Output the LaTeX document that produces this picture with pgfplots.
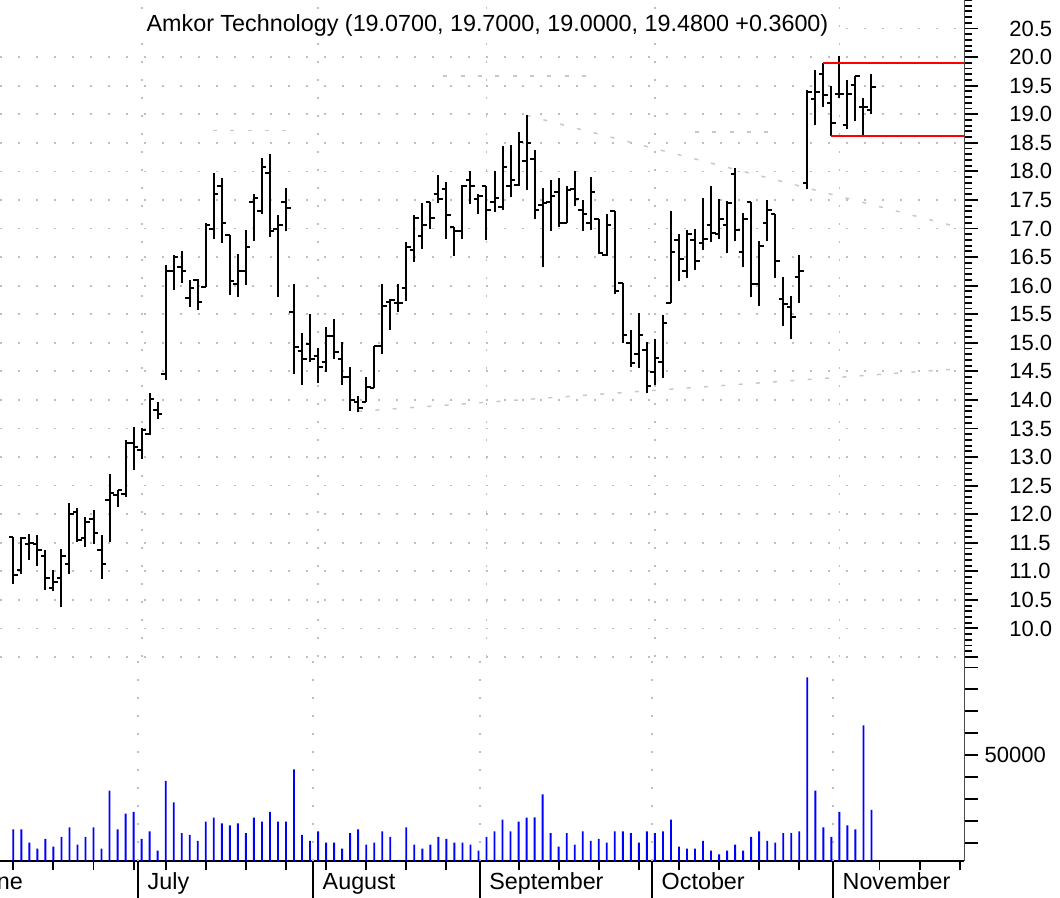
\documentclass[border=0pt]{standalone}
\usepackage{fontspec}
\setmainfont{Liberation Sans}
\usepackage{pgfplots}
\usepackage{pgfplotstable}
\pgfplotsset{compat=1.18}

\definecolor{gridgray}{RGB}{190,190,190}
\definecolor{trendgray}{RGB}{200,200,200}
\definecolor{volblue}{RGB}{0,0,255}

\newcommand\tickfont{\fontsize{16.5}{19}\selectfont}
\newcommand\titlefont{\fontsize{17.5}{20}\selectfont}

% open tick to the left, close tick to the right
\pgfdeclareplotmark{ohlcopen}{\pgfpathmoveto{\pgfqpoint{-3.4pt}{0pt}}\pgfpathlineto{\pgfqpoint{0pt}{0pt}}\pgfusepathqstroke}
\pgfdeclareplotmark{ohlcclose}{\pgfpathmoveto{\pgfqpoint{0pt}{0pt}}\pgfpathlineto{\pgfqpoint{3.4pt}{0pt}}\pgfusepathqstroke}

% trading day index, open, high, low, close, volume
\pgfplotstableread{
i O H L C V
0 11.60 11.60 10.78 10.93 16100
1 11.02 11.60 10.96 11.59 16100
2 11.47 11.66 11.19 11.50 10000
3 11.48 11.63 11.09 11.37 7270
4 11.26 11.38 10.68 10.88 11690
5 10.71 11.02 10.65 10.81 8180
6 10.88 11.39 10.37 11.26 12600
7 11.13 12.20 10.96 12.01 17010
8 12.04 12.11 11.52 11.55 9100
9 11.59 11.95 11.42 11.86 12600
10 11.92 12.08 11.48 11.67 17010
11 11.37 11.63 10.87 11.12 7270
12 12.24 12.71 11.51 12.37 33750
13 12.34 12.43 12.12 12.42 16100
14 12.36 13.29 12.30 13.24 23250
15 13.25 13.53 12.77 13.18 24010
16 13.12 13.50 12.97 13.48 11690
17 13.41 14.12 13.38 14.02 15190
18 13.82 13.96 13.67 13.75 6360
19 14.46 16.36 14.35 16.26 38170
20 16.26 16.53 15.93 16.51 28430
21 16.33 16.60 16.04 16.26 14420
22 15.79 16.09 15.63 15.95 13510
23 16.09 16.12 15.57 15.72 10770
24 15.98 17.09 15.97 17.06 19600
25 17.00 17.98 16.81 17.61 21430
26 17.74 17.88 16.75 17.10 18840
27 16.89 16.89 15.84 16.08 17930
28 16.02 16.56 15.80 16.26 18840
29 16.26 16.97 16.01 16.68 14420
30 17.47 17.60 16.78 17.54 21430
31 17.30 18.24 17.26 18.08 19600
32 17.97 18.31 16.86 16.95 24010
33 17.00 17.23 15.80 17.06 19600
34 17.47 17.71 16.95 17.36 19600
35 15.54 16.02 14.46 14.93 43500
36 14.85 15.17 14.26 14.71 13510
37 14.97 15.51 14.67 14.71 10770
38 14.76 14.90 14.29 14.58 15190
39 14.67 15.28 14.49 15.11 10010
40 15.11 15.41 14.72 14.84 10010
41 14.71 15.02 14.26 14.40 7270
42 14.40 14.58 13.81 14.00 14420
43 13.96 14.06 13.78 13.85 16100
44 13.96 14.40 13.96 14.23 9100
45 14.20 14.94 14.20 14.94 10010
46 14.94 16.02 14.80 15.64 15190
47 15.72 15.77 15.23 15.74 12600
48 15.70 16.02 15.54 15.69 2100
49 15.95 16.77 15.73 16.67 17010
50 16.62 17.23 16.42 17.18 9100
51 16.87 17.44 16.65 17.07 7270
52 17.47 17.47 17.00 17.18 9100
53 17.60 17.93 17.44 17.51 12600
54 17.70 17.82 16.82 17.23 11690
55 17.03 17.03 16.52 16.96 10010
56 16.96 17.76 16.82 17.74 10010
57 17.85 18.01 17.43 17.74 9100
58 17.51 17.60 17.26 17.57 6360
59 17.74 17.74 16.80 17.33 12600
60 17.47 18.01 17.29 17.54 15190
61 17.37 18.45 17.32 18.08 20510
62 17.74 18.46 17.55 17.85 15190
63 17.76 18.69 17.74 18.52 19600
64 18.18 18.98 17.67 18.49 21430
65 18.21 18.38 17.16 17.33 21580
66 17.41 17.71 16.32 17.44 32080
67 17.47 17.85 16.96 17.57 14420
68 17.64 17.88 17.03 17.10 8180
69 17.10 17.74 17.09 17.68 14420
70 17.70 18.01 17.39 17.51 9100
71 17.33 17.50 16.96 17.26 15190
72 17.10 17.90 16.98 17.64 10770
73 17.17 17.17 16.56 16.58 11690
74 16.53 17.26 16.52 17.07 10010
75 17.30 17.30 15.85 15.91 15190
76 16.05 16.05 15.00 15.14 15190
77 15.00 15.22 14.58 14.64 14420
78 14.81 15.52 14.55 15.14 10010
79 14.88 15.01 14.12 14.24 15190
80 14.49 15.07 14.26 14.74 14420
81 14.66 15.48 14.39 15.34 15190
82 15.70 17.30 15.70 16.59 20510
83 16.80 16.90 16.08 16.46 8180
84 16.26 16.97 16.14 16.91 7270
85 16.80 17.00 16.28 16.43 7270
86 16.74 17.54 16.62 16.82 10770
87 17.07 17.75 16.76 16.92 6360
88 16.90 17.51 16.81 17.17 4680
89 17.07 17.48 16.58 17.44 6360
90 17.95 18.06 16.78 16.97 9100
91 16.59 17.27 16.32 17.16 6360
92 17.47 17.47 15.80 16.02 12600
93 16.02 16.78 15.64 16.70 15190
94 17.10 17.50 16.78 17.33 10770
95 17.26 17.26 16.14 16.43 10010
96 15.76 16.15 15.30 15.67 14420
97 15.62 15.82 15.06 15.45 14420
98 16.15 16.53 15.70 16.26 15190
99 17.80 19.42 17.70 19.39 85500
100 19.26 19.77 18.81 19.39 33750
101 19.70 19.90 19.13 19.33 17010
102 19.20 19.49 18.62 18.85 12600
103 19.36 20.02 19.29 19.36 24010
104 18.81 19.60 18.75 19.36 17930
105 19.51 19.67 18.89 19.67 16100
106 19.13 19.29 18.63 19.12 63590
107 19.07 19.70 19.00 19.48 24930
}\ohlc

\pgfplotsset{
  chartbase/.style={
    scale only axis, anchor=south west, width=723pt,
    xmin=-1.66, xmax=118.54,
    axis x line*=bottom, axis y line*=right,
    xtick pos=left, ytick pos=right, yticklabel pos=right,
    tick align=outside,
    major tick length=10.5pt, minor tick length=6pt,
    tick style={black, line width=1.4pt},
    y axis line style={black!70, line width=0.75pt},
    tick label style={font=\tickfont},
    major grid style={gridgray, line width=1.3pt, dash pattern=on 1.5pt off 12pt},
  },
}

\begin{document}
\begin{tikzpicture}
\path[use as bounding box] (0,0) rectangle (795pt,673.5pt);

% price panel
\begin{axis}[chartbase,
  at={(0pt,180.75pt)}, height=492.75pt,
  ymin=9.5, ymax=21,
  x axis line style={draw=none},
  xtick={16,38,59,80,103}, xticklabels={}, xtick style={draw=none},
  xmajorgrids, ymajorgrids,
  ytick={9.5,10,...,20.5},
  yticklabels={{},10.0,10.5,11.0,11.5,12.0,12.5,13.0,13.5,14.0,14.5,15.0,15.5,16.0,16.5,17.0,17.5,18.0,18.5,19.0,19.5,20.0,20.5},
  yticklabel style={xshift=20pt},
  minor ytick={9.6,9.7,...,20.95},
]
% trend lines
\addplot[trendgray, line width=1.1pt, dash pattern=on 3pt off 10pt] coordinates {(43,13.80) (118.5,14.55)};
\addplot[trendgray, line width=1.1pt, dash pattern=on 3pt off 10pt] coordinates {(64,18.98) (118.5,17.00)};
\addplot[trendgray, line width=1.1pt, dash pattern=on 3pt off 10pt] coordinates {(24.9,18.72) (34.5,18.72)};
\addplot[trendgray, line width=1.1pt, dash pattern=on 3pt off 10pt] coordinates {(53.6,19.67) (71.9,19.67)};
\addplot[trendgray, line width=1.1pt, dash pattern=on 3pt off 10pt] coordinates {(85,18.69) (94.1,18.69)};
% high-low range
\addplot[draw=none, mark=none,
  error bars/.cd, y dir=plus, y explicit, error mark=none,
  error bar style={draw=black, solid, line width=1.5pt}]
  table[x=i, y=L, y error plus expr=\thisrow{H}-\thisrow{L}] {\ohlc};
\addplot[black, only marks, mark=ohlcopen, mark options={black, line width=1.5pt}] table[x=i, y=O] {\ohlc};
\addplot[black, only marks, mark=ohlcclose, mark options={black, line width=1.5pt}] table[x=i, y=C] {\ohlc};
% range lines
\addplot[red, line width=1.5pt] coordinates {(100.9,19.90) (118.54,19.90)};
\addplot[red, line width=1.5pt] coordinates {(101.9,18.62) (118.54,18.62)};
\end{axis}

% volume panel
\begin{axis}[chartbase,
  at={(0pt,27.75pt)}, height=153pt,
  ymin=1640, ymax=94786,
  clip mode=individual,
  x axis line style={black, line width=1.2pt},
  xtick={0,5,10,15,19,24,29,34,39,44,49,54,63,68,73,78,83,88,93,98,108,113,118},
  xticklabels={}, major tick length=7pt,
  extra x ticks={15.59,37.41,58.19,79.68,102.24}, extra x tick labels={},
  extra x tick style={grid=major, major tick length=27.75pt},
  ytick={10000,20000,...,90000},
  yticklabels={,,,,50000,,,,},
  yticklabel style={xshift=5pt},
  scaled y ticks=false,
  ytick style={black, line width=1.4pt, /pgfplots/major tick length=10.5pt},
]
\addplot[ybar, bar width=1.4pt, fill=volblue, draw=none] table[x=i, y=V] {\ohlc};
\node[anchor=base west, font=\titlefont, xshift=3.5pt, yshift=-21.75pt] at (axis cs:-6.3,1640) {June};
\node[anchor=base west, font=\titlefont, xshift=3.5pt, yshift=-21.75pt] at (axis cs:15.59,1640) {July};
\node[anchor=base west, font=\titlefont, xshift=3.5pt, yshift=-21.75pt] at (axis cs:37.41,1640) {August};
\node[anchor=base west, font=\titlefont, xshift=3.5pt, yshift=-21.75pt] at (axis cs:58.19,1640) {September};
\node[anchor=base west, font=\titlefont, xshift=3.5pt, yshift=-21.75pt] at (axis cs:79.68,1640) {October};
\node[anchor=base west, font=\titlefont, xshift=3.5pt, yshift=-21.75pt] at (axis cs:102.24,1640) {November};
\end{axis}

% title band
\fill[white] (0pt,643.5pt) rectangle (624.75pt,658.5pt);
\node[anchor=base, font=\titlefont, inner sep=0pt] at (365.6pt,649.5pt) {Amkor Technology (19.0700, 19.7000, 19.0000, 19.4800 +0.3600)};
\end{tikzpicture}
\end{document}
